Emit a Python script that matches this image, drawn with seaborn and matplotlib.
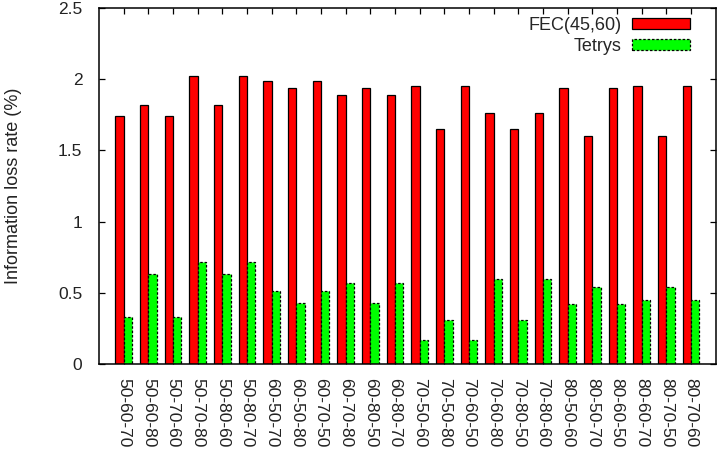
import numpy as np
import pandas as pd
import matplotlib
matplotlib.use("Agg")
import matplotlib.pyplot as plt
import seaborn as sns
from matplotlib.patches import Patch
from matplotlib.ticker import FuncFormatter

# Scenario labels and loss rates (%)
scenarios = ["50-60-70", "50-60-80", "50-70-60", "50-70-80", "50-80-60", "50-80-70",
             "60-50-70", "60-50-80", "60-70-50", "60-70-80", "60-80-50", "60-80-70",
             "70-50-60", "70-50-80", "70-60-50", "70-60-80", "70-80-50", "70-80-60",
             "80-50-60", "80-50-70", "80-60-50", "80-60-70", "80-70-50", "80-70-60"]
fec = [1.74, 1.82, 1.74, 2.02, 1.82, 2.02, 1.99, 1.94, 1.99, 1.89, 1.94, 1.89,
       1.95, 1.65, 1.95, 1.76, 1.65, 1.76, 1.94, 1.60, 1.94, 1.95, 1.60, 1.95]
tetrys = [0.33, 0.63, 0.33, 0.72, 0.63, 0.72, 0.51, 0.43, 0.51, 0.57, 0.43, 0.57,
          0.17, 0.31, 0.17, 0.60, 0.31, 0.60, 0.42, 0.54, 0.42, 0.45, 0.54, 0.45]
series = ["FEC(45,60)", "Tetrys"]
colors = ["#ff0000", "#00ff00"]

df = pd.DataFrame({
    "scenario": scenarios * 2,
    "rate": fec + tetrys,
    "method": [series[0]] * len(scenarios) + [series[1]] * len(scenarios),
})

sns.set_theme(style="ticks")
plt.rcParams['font.family'] = ['Liberation Sans', 'DejaVu Sans']

fig = plt.figure(figsize=(7.23, 4.71), dpi=100)
ax = fig.add_axes([0.137, 0.227, 0.853, 0.756])

sns.barplot(data=df, x="scenario", y="rate", hue="method", order=scenarios,
            hue_order=series, palette=colors, width=0.68, saturation=1,
            edgecolor="black", linewidth=0.9, legend=False, ax=ax)

# dashed outline on the Tetrys bars
for bar in ax.containers[1]:
    bar.set_linestyle((0, (2, 1.5)))

ax.set_xlim(-1, len(scenarios))
ax.set_ylim(0, 2.5)
ax.set_yticks(np.arange(0, 2.51, 0.5))
ax.yaxis.set_major_formatter(FuncFormatter(lambda v, p: f"{v:g}"))
ax.set_xlabel("")
ax.set_ylabel("Information loss rate (%)", fontsize=13, color="#222222")
ax.yaxis.set_label_coords(-0.125, 0.5)

for s in ax.spines.values():
    s.set_visible(True)
    s.set_linewidth(1.1)
    s.set_color("black")

ax.tick_params(axis="y", direction="in", length=4.5, width=0.9, left=True, right=True,
               labelsize=12.5, pad=12, colors="black", labelcolor="#222222")
ax.tick_params(axis="x", direction="in", length=4.5, width=0.9, bottom=True, top=True,
               labelsize=12.5, pad=10, colors="black", labelcolor="#222222")
plt.setp(ax.get_xticklabels(), rotation=270)

handles = [Patch(facecolor=colors[0], edgecolor="black", linewidth=0.9),
           Patch(facecolor=colors[1], edgecolor="black", linewidth=0.9, linestyle=(0, (2, 1.5)))]
ax.legend(handles, series, loc="upper right", bbox_to_anchor=(0.958, 0.975),
          frameon=False, markerfirst=False, fontsize=13, handlelength=3.2,
          handleheight=0.5, handletextpad=0.6, labelspacing=0.22,
          borderpad=0, borderaxespad=0)

fig.savefig("out.png", dpi=100)
